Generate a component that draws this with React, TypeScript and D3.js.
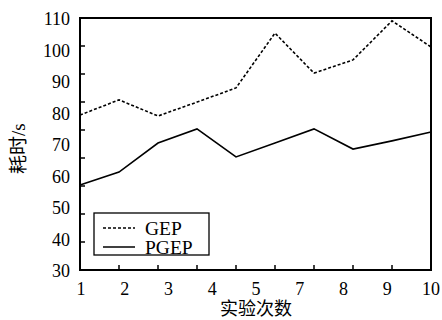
import React from "react";
import * as d3 from "d3";

const runs = [1, 2, 3, 4, 5, 6, 7, 8, 9, 10];
const gep = [79.2, 84, 78.9, 83.3, 87.8, 105.2, 92.5, 96.7, 109.1, 100.8];
const pgep = [57, 61.1, 70.3, 74.8, 65.9, 70.3, 74.8, 68.4, 71, 73.8];
const xLabels = ["1", "2", "3", "4", "5", "7", "8", "9", "10"];
const yLabels = [30, 40, 50, 60, 70, 80, 90, 100, 110];
const seriesNames = ["GEP", "PGEP"];

const W = 442;
const H = 320;
const m = { left: 80, top: 18, right: 11, bottom: 50 };
const iw = W - m.left - m.right;
const ih = H - m.top - m.bottom;

export default function App() {
  const x = d3.scaleLinear().domain([1, 10]).range([0, iw]);
  const y = d3.scaleLinear().domain([30, 110]).range([ih, 0]);
  const xLab = d3.scalePoint<string>().domain(xLabels).range([1, iw]);
  const yTick = d3.scaleLinear().domain([0, 9]).range([ih, 0]);
  const line = d3
    .line<number>()
    .x((_, i) => x(runs[i]))
    .y((d) => y(d));
  const serif = "'Liberation Serif', 'DejaVu Serif', serif";
  const cjk = "'Liberation Serif', 'Noto Sans CJK SC', serif";
  const tickIdx = d3.range(1, 9);
  return (
    <svg
      width={W}
      height={H}
      style={{ position: "absolute", left: 0, top: 0, background: "#fff" }}
    >
      <g transform={`translate(${m.left},${m.top})`}>
        <path d={line(gep) || ""} fill="none" stroke="#000" strokeWidth={1.6} strokeDasharray="3,2" />
        <path d={line(pgep) || ""} fill="none" stroke="#000" strokeWidth={1.6} />
        {tickIdx.map((i) => (
          <line key={"xt" + i} x1={x(runs[i])} x2={x(runs[i])} y1={ih} y2={ih - 5} stroke="#000" strokeWidth={1.5} />
        ))}
        {tickIdx.map((i) => (
          <line key={"yt" + i} x1={0} x2={5} y1={yTick(i)} y2={yTick(i)} stroke="#000" strokeWidth={1.5} />
        ))}
        <rect x={0} y={0} width={iw} height={ih} fill="none" stroke="#000" strokeWidth={2} />
        {xLabels.map((l) => (
          <text key={"xl" + l} x={xLab(l)} y={ih + 25} textAnchor="middle" fontFamily={serif} fontSize={18}>
            {l}
          </text>
        ))}
        {yLabels.map((v) => (
          <text key={"yl" + v} x={-10} y={y(v) + 7} textAnchor="end" fontFamily={serif} fontSize={18}>
            {v}
          </text>
        ))}
        <text x={176} y={ih + 45} textAnchor="middle" fontFamily={cjk} fontSize={18}>
          实验次数
        </text>
        <text
          transform={`translate(${-55},${y(68.5)}) rotate(-90)`}
          textAnchor="middle"
          fontFamily={cjk}
          fontSize={19}
        >
          耗时/s
        </text>
        <g transform={`translate(14,195)`}>
          <rect x={0} y={0} width={115} height={42} fill="#fff" stroke="#000" strokeWidth={1.3} />
          {seriesNames.map((n, i) => (
            <g key={n} transform={`translate(0,${15 + i * 19})`}>
              <line x1={9} x2={41} y1={0} y2={0} stroke="#000" strokeWidth={1.5} strokeDasharray={i === 0 ? "3,2" : undefined} />
              <text x={51} y={7} fontFamily={serif} fontSize={19.5}>
                {n}
              </text>
            </g>
          ))}
        </g>
      </g>
    </svg>
  );
}
